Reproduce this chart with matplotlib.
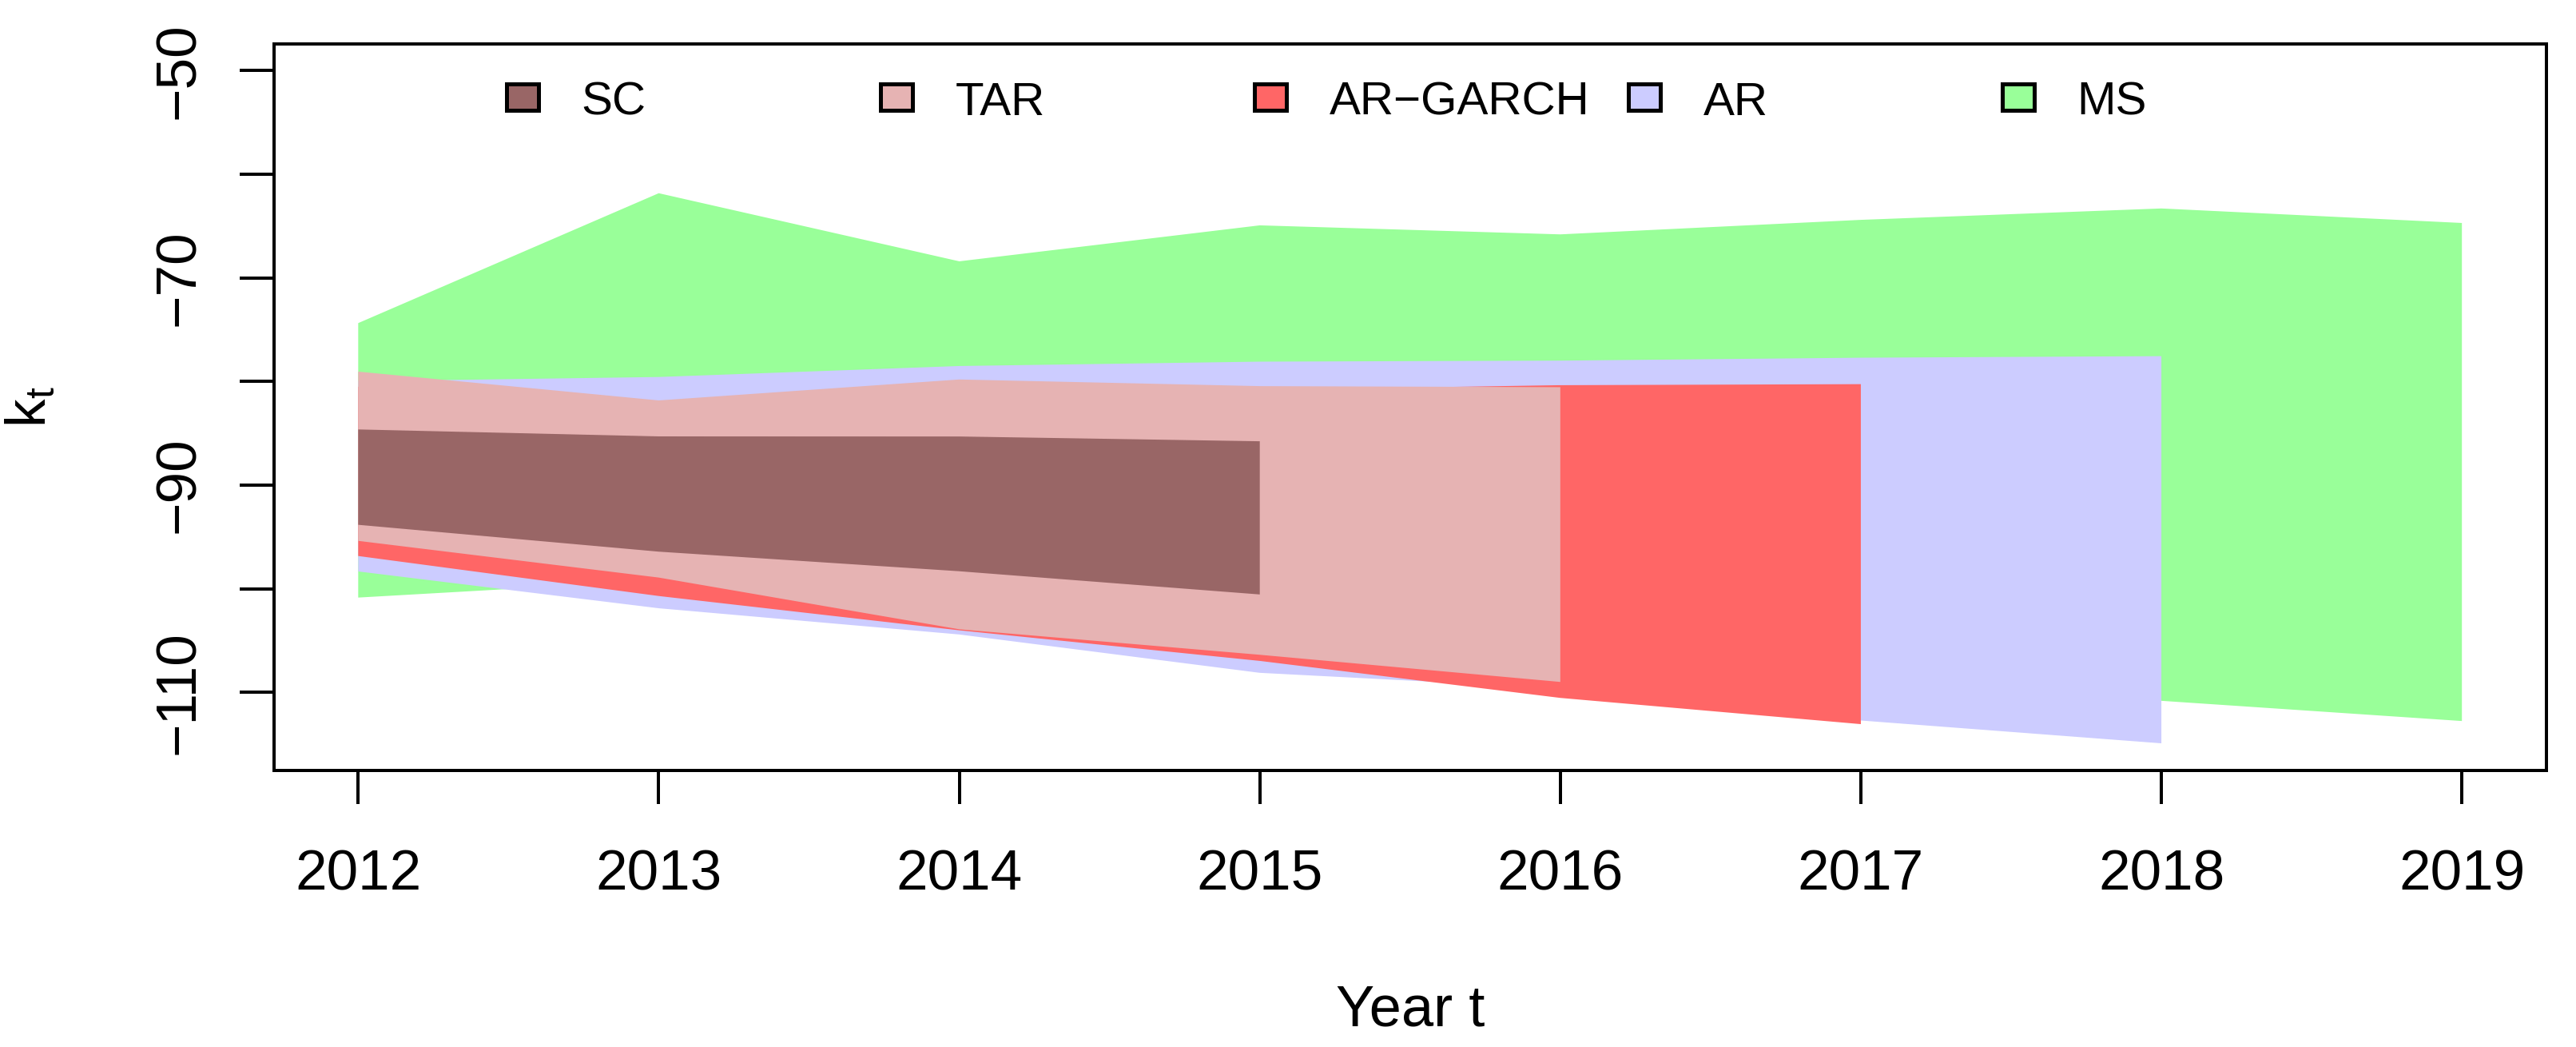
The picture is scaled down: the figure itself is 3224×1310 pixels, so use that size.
import matplotlib
matplotlib.use("Agg")
import matplotlib.pyplot as plt
from matplotlib.patches import Rectangle
from matplotlib.ticker import FixedLocator, FixedFormatter

# ---------------- data ----------------
years_ms = [2012, 2013, 2014, 2015, 2016, 2017, 2018, 2019]
ms_upper = [-74.36, -61.83, -68.4, -64.93, -65.8, -64.4, -63.3, -64.7]
ms_lower = [-100.84, -99.19, -103.0, -105.5, -107.5, -109.2, -110.8, -112.75]

years_ar = [2012, 2013, 2014, 2015, 2016, 2017, 2018]
ar_upper = [-79.97, -79.56, -78.5, -78.08, -77.98, -77.7, -77.55]
ar_lower = [-98.32, -101.87, -104.4, -108.1, -109.6, -112.7, -114.9]

years_garch = [2012, 2013, 2014, 2015, 2016, 2017]
garch_upper = [-80.5, -82.5, -81.0, -80.8, -80.35, -80.25]
garch_lower = [-96.83, -100.69, -104.0, -106.95, -110.52, -113.05]

years_tar = [2012, 2013, 2014, 2015, 2016]
tar_upper = [-79.04, -81.82, -79.8, -80.44, -80.54]
tar_lower = [-95.37, -98.91, -103.9, -106.36, -108.98]

years_sc = [2012, 2013, 2014, 2015]
sc_upper = [-84.62, -85.29, -85.3, -85.76]
sc_lower = [-93.82, -96.41, -98.3, -100.54]

legend_labels = ["SC", "TAR", "AR\u2212GARCH", "AR", "MS"]
col_sc, col_tar, col_garch, col_ar, col_ms = "#996666", "#E6B3B3", "#FF6666", "#CCCCFF", "#99FF99"
legend_colors = [col_sc, col_tar, col_garch, col_ar, col_ms]

xtick_values = [2012, 2013, 2014, 2015, 2016, 2017, 2018, 2019]
xtick_labels = ["2012", "2013", "2014", "2015", "2016", "2017", "2018", "2019"]
ytick_values = [-110, -100, -90, -80, -70, -60, -50]
ytick_labels = ["\u2212110", "", "\u221290", "", "\u221270", "", "\u221250"]

# ---------------- style ----------------
plt.rcParams["font.family"] = ["Liberation Sans", "DejaVu Sans"]
plt.rcParams["mathtext.fontset"] = "custom"
plt.rcParams["mathtext.rm"] = "Liberation Sans"
plt.rcParams["mathtext.it"] = "Liberation Sans"

fig = plt.figure(figsize=(16.12, 6.55), dpi=200)
ax = fig.add_axes([0.10639, 0.26412, 0.88198, 0.6939])

# polygons (drawn in the same order as the original)
ax.fill_between(years_ms, ms_lower, ms_upper, facecolor=col_ms, linewidth=0)
ax.fill_between(years_ar, ar_lower, ar_upper, facecolor=col_ar, linewidth=0)
ax.fill_between(years_garch, garch_lower, garch_upper, facecolor=col_garch, linewidth=0)
ax.fill_between(years_tar, tar_lower, tar_upper, facecolor=col_tar, linewidth=0)
ax.fill_between(years_sc, sc_lower, sc_upper, facecolor=col_sc, linewidth=0)

ax.set_xlim(2011.72, 2019.28)
ax.set_ylim(-117.52, -47.43)

for sp in ax.spines.values():
    sp.set_linewidth(1.44)
    sp.set_color("black")

ax.xaxis.set_major_locator(FixedLocator(xtick_values))
ax.xaxis.set_major_formatter(FixedFormatter(xtick_labels))
ax.yaxis.set_major_locator(FixedLocator(ytick_values))
ax.yaxis.set_major_formatter(FixedFormatter(ytick_labels))

ax.tick_params(axis="x", direction="out", length=15.1, width=1.44, pad=20.5,
               labelsize=25.6, colors="black")
ax.tick_params(axis="y", direction="out", length=15.5, width=1.44, pad=15,
               labelsize=25.6, colors="black")
for lbl in ax.get_yticklabels():
    lbl.set_rotation(90)
    lbl.set_va("center")

ax.set_xlabel("Year t", fontsize=26)
ax.xaxis.set_label_coords(0.5, -0.2948)
ax.set_ylabel(r"$\mathregular{k_t}$", fontsize=25.6)
ax.yaxis.set_label_coords(-0.0953, 0.5)

# legend (horizontal, equally spaced entries)
bw, bh = 0.01407, 0.0363
cy = 0.9263
for i, (lab, col) in enumerate(zip(legend_labels, legend_colors)):
    cx = 0.10944 + i * 0.16459
    ax.add_patch(Rectangle((cx - bw / 2, cy - bh / 2), bw, bh, transform=ax.transAxes,
                           facecolor=col, edgecolor="black", linewidth=1.8, clip_on=False))
    ax.text(cx + 0.02575, 0.9026, lab, transform=ax.transAxes, ha="left", va="baseline",
            fontsize=21, color="black")

fig.savefig("out.png", dpi=200)
